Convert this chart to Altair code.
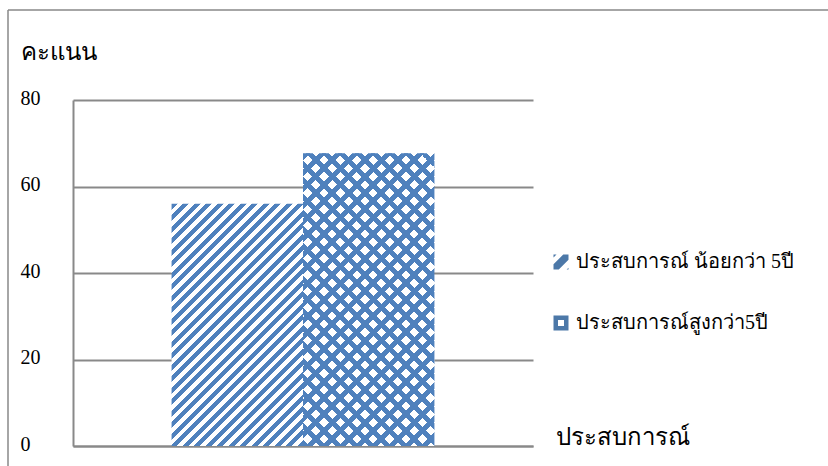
import altair as alt
import pandas as pd

# Scores by experience group
series = ["ประสบการณ์ น้อยกว่า 5ปี", "ประสบการณ์สูงกว่า5ปี"]
scores = [56.0, 67.7]
y_ticks = [0, 20, 40, 60, 80]
y_title = "คะแนน"
x_title = "ประสบการณ์"

BLUE = "#4F81BD"
LINE = "#898989"
CLEAR = "rgba(255,255,255,0)"
THAI_FONT = "Liberation Serif, Noto Sans, serif"
NUM_FONT = "Liberation Serif"

PLOT_W, PLOT_H = 460, 346
Y_MAX = 80
PAD_OUTER = 0.75

df = pd.DataFrame({"series": series, "score": scores})

band = PLOT_W / (len(series) + 2 * PAD_OUTER)


def bar_height(v):
    return v / Y_MAX * PLOT_H


def diagonal_fill(w, h, period, duty, on, off, rising=True):
    """Linear gradient with hard stops that renders 45-degree stripes on a w x h rect."""
    span = w + h
    n = span / period
    k = w * w + h * h
    gx, gy = span * w / k, span * h / k
    if rising:
        x1, y1, x2, y2 = 0, 0, gx, gy
    else:
        x1, y1, x2, y2 = 0, 1, gx, 1 - gy
    stops = []
    i = 0
    while i < n:
        a = i / n
        b = min((i + duty) / n, 1.0)
        c = min((i + 1) / n, 1.0)
        stops += [
            {"offset": a, "color": on},
            {"offset": b, "color": on},
            {"offset": b, "color": off},
            {"offset": c, "color": off},
        ]
        i += 1
    return {"gradient": "linear", "x1": x1, "y1": y1, "x2": x2, "y2": y2, "stops": stops}


h1 = bar_height(scores[0])
h2 = bar_height(scores[1])
stripe_fill = diagonal_fill(band, h1, 11.5, 0.5, BLUE, "white", rising=True)
dots_fill_a = diagonal_fill(band, h2, 16.4, 0.42, BLUE, "white", rising=True)
dots_fill_b = diagonal_fill(band, h2, 16.4, 0.42, BLUE, CLEAR, rising=False)

x_scale = alt.Scale(domain=series, paddingInner=0, paddingOuter=PAD_OUTER)
y_scale = alt.Scale(domain=[0, Y_MAX], nice=False)

x_axis = alt.Axis(
    labels=False, ticks=False, tickSize=0, grid=False,
    domainColor=LINE, domainWidth=2,
    title=x_title, titleX=482, titleY=-9, titleAlign="left", titleBaseline="middle",
    titleFont=THAI_FONT, titleFontSize=24, titleFontWeight="normal", titleColor="black",
)
y_axis = alt.Axis(
    values=y_ticks, grid=True, gridColor=LINE, gridWidth=2,
    domainColor=LINE, domainWidth=2, ticks=False, tickSize=0,
    labelFont=NUM_FONT, labelFontSize=20, labelColor="black",
    labelAlign="left", labelPadding=53, labelBaseline="middle", labelOffset=-2,
    title=y_title, titleAngle=0, titleX=-53, titleY=-48,
    titleAlign="left", titleBaseline="middle",
    titleFont=THAI_FONT, titleFontSize=24, titleFontWeight="normal", titleColor="black",
)

enc = dict(
    x=alt.X("series:N", scale=x_scale, axis=x_axis),
    y=alt.Y("score:Q", scale=y_scale, axis=y_axis),
)

base = alt.Chart(df)

# Outer frame of the figure (left and top edges)
frame = alt.Chart(alt.Data(values=[{}]))
frame_left = frame.mark_rule(color=LINE, strokeWidth=1.5).encode(
    x=alt.value(-65), y=alt.value(-90), y2=alt.value(420)
)
frame_top = frame.mark_rule(color=LINE, strokeWidth=1.5).encode(
    x=alt.value(-65), x2=alt.value(800), y=alt.value(-90)
)

icon_stripes = (
    "M -1 0.3 L 0.3 -1 L 1 -1 L 1 -0.3 L -0.3 1 L -1 1 Z "
    "M 0.75 1 L 1 0.75 L 1 1 Z M -1 -1 L -0.6 -1 L -1 -0.6 Z"
)
icon_dots = (
    "M -1 -1 L 1 -1 L 1 1 L -1 1 Z "
    "M -0.4 -0.4 L -0.4 0.4 L 0.4 0.4 L 0.4 -0.4 Z"
)

legend_pts = base.mark_point(filled=True, opacity=0, size=10).encode(
    shape=alt.Shape(
        "series:N",
        scale=alt.Scale(domain=series, range=[icon_stripes, icon_dots]),
        legend=alt.Legend(
            title=None, orient="none", legendX=478, legendY=152,
            direction="vertical", symbolSize=225, symbolFillColor=BLUE,
            symbolStrokeWidth=0, symbolOpacity=1,
            labelFont=THAI_FONT, labelFontSize=20, labelColor="black",
            labelOffset=5, rowPadding=41, labelLimit=400,
        ),
    ),
    **enc,
)

bar_low = base.transform_filter(alt.datum.series == series[0]).mark_bar(
    fill=stripe_fill, strokeWidth=0
).encode(**enc)
bar_high_a = base.transform_filter(alt.datum.series == series[1]).mark_bar(
    fill=dots_fill_a, strokeWidth=0
).encode(**enc)
bar_high_b = base.transform_filter(alt.datum.series == series[1]).mark_bar(
    fill=dots_fill_b, strokeWidth=0
).encode(**enc)

chart = (
    alt.layer(frame_left, frame_top, legend_pts, bar_low, bar_high_a, bar_high_b)
    .properties(
        width=PLOT_W, height=PLOT_H,
        padding={"left": 73, "top": 100, "right": 295, "bottom": 20},
        autosize=alt.AutoSizeParams(type="none"),
    )
    .configure_view(stroke=None)
)

chart.save("out.html", embed_options={"renderer": "svg", "actions": False})
